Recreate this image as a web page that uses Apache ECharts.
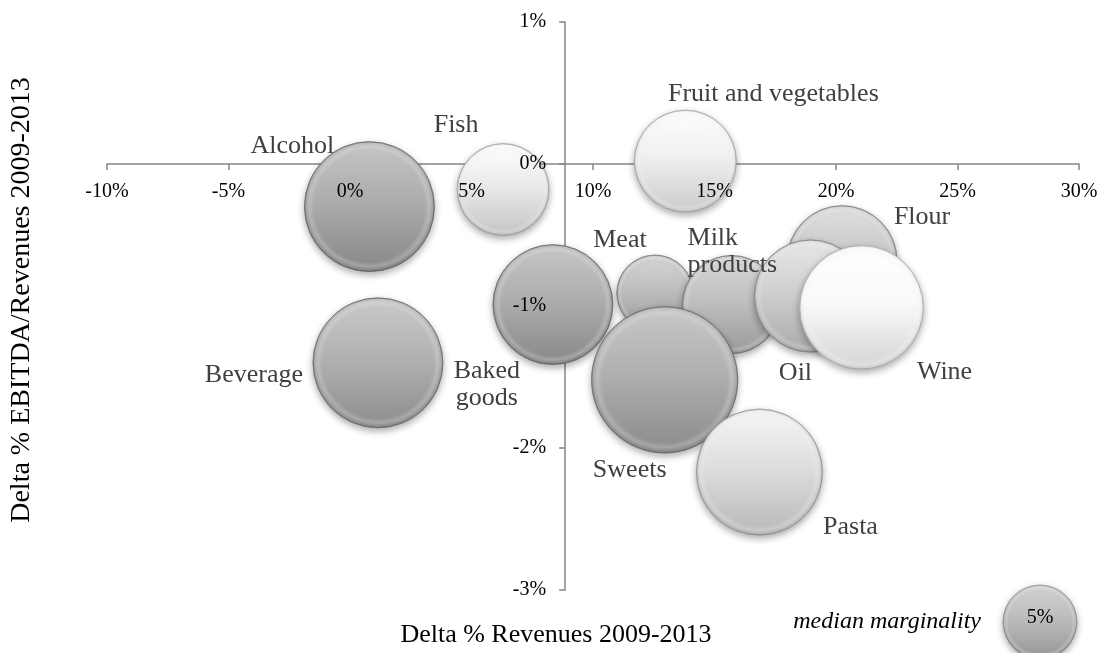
<!DOCTYPE html>
<html>
<head>
<meta charset="utf-8">
<script src="https://cdn.jsdelivr.net/npm/echarts@6/dist/echarts.min.js"></script>
<style>
  html, body { margin: 0; padding: 0; background: #ffffff; }
  #chart { width: 1103px; height: 653px; }
</style>
</head>
<body>
<div id="chart"></div>
<script>
// Food sectors: revenue change 2009-2013 (x), EBITDA/revenue change (y), median marginality (bubble area)
const sectors      = ['Alcohol', 'Fish', 'Fruit and vegetables', 'Beverage', 'Baked goods', 'Meat',
                      'Milk products', 'Sweets', 'Pasta', 'Flour', 'Oil', 'Wine'];
const revenueDelta = [0.8, 6.3, 13.8, 1.15, 8.35, 12.55, 15.7, 12.95, 16.85, 20.25, 18.95, 21.05];
const ebitdaDelta  = [-0.30, -0.18, 0.02, -1.40, -0.99, -0.91, -0.99, -1.52, -2.17, -0.68, -0.93, -1.01];
const marginality  = [15.4, 7.7, 9.5, 15.4, 13.1, 5.3, 8.8, 19.5, 14.5, 11.0, 11.5, 14.0];

// Axis ticks (percent) and the x value where the vertical axis crosses
const xTicks = [-10, -5, 0, 5, 10, 15, 20, 25, 30];
const yTicks = [-3, -2, -1, 0, 1];
const yAxisCrossAt = 8.85;

// Reference bubble for the size key
const keyMarginality = 5;

// ---- presentation ----
const GRID = { left: 107, right: 24, top: 22, bottom: 63 };
const CHART_H = 653;
const R_KEY = 37;                       // radius in px of a 5% bubble
const radiusOf = m => R_KEY * Math.sqrt(m / keyMarginality);

// grey tone of each bubble (0-255), same order as sectors
const tones = [165, 226, 232, 170, 166, 182, 184, 168, 214, 192, 200, 242];
const keyTone = 180;

// label placement around each bubble: [dx, dy, align, text]
const labelLayout = {
  'Alcohol':              [-77, -60, 'center', 'Alcohol'],
  'Fish':                 [-47, -64, 'center', 'Fish'],
  'Fruit and vegetables': [ 88, -67, 'center', 'Fruit and vegetables'],
  'Beverage':             [-124, 12, 'center', 'Beverage'],
  'Baked goods':          [-66,  80, 'center', 'Baked\ngoods'],
  'Meat':                 [-35, -53, 'center', 'Meat'],
  'Milk products':        [-44, -53, 'left',   'Milk\nproducts'],
  'Sweets':               [-35,  90, 'center', 'Sweets'],
  'Pasta':                [ 91,  55, 'center', 'Pasta'],
  'Flour':                [ 80, -43, 'center', 'Flour'],
  'Oil':                  [-15,  77, 'center', 'Oil'],
  'Wine':                 [ 83,  65, 'center', 'Wine']
};

const SERIF = '"Liberation Serif", "Times New Roman", serif';
const AXIS_GREY = '#878787';

function grey(v, a) {
  v = Math.max(0, Math.min(255, Math.round(v)));
  return 'rgba(' + v + ',' + v + ',' + v + ',' + (a == null ? 1 : a) + ')';
}

// 3-D looking bubble: vertical shading, soft bevel ring, drop shadow
function bubbleShapes(cx, cy, r, tone) {
  return [
    {
      type: 'circle',
      shape: { cx: cx, cy: cy, r: r },
      style: {
        fill: new echarts.graphic.LinearGradient(0, 0, 0, 1, [
          { offset: 0, color: grey(tone + 32) },
          { offset: 0.45, color: grey(tone + 8) },
          { offset: 1, color: grey(tone - 30) }
        ]),
        stroke: grey(tone - 70, 0.55),
        lineWidth: 1,
        shadowBlur: 7,
        shadowOffsetY: 3,
        shadowColor: 'rgba(0,0,0,0.32)'
      }
    },
    {
      type: 'circle',
      silent: true,
      shape: { cx: cx, cy: cy, r: r - 0.5 },
      style: {
        fill: new echarts.graphic.RadialGradient(0.5, 0.5, 0.5, [
          { offset: 0, color: 'rgba(255,255,255,0)' },
          { offset: 0.86, color: 'rgba(255,255,255,0)' },
          { offset: 0.93, color: 'rgba(255,255,255,0.22)' },
          { offset: 0.97, color: 'rgba(255,255,255,0.06)' },
          { offset: 1, color: 'rgba(0,0,0,0.12)' }
        ])
      }
    }
  ];
}

const points = sectors.map((name, i) => ({
  name: name,
  value: [revenueDelta[i], ebitdaDelta[i], marginality[i]]
}));

const pct = v => v + '%';

const option = {
  animation: false,
  backgroundColor: '#ffffff',
  grid: {
    left: GRID.left, right: GRID.right, top: GRID.top, bottom: GRID.bottom,
    containLabel: false, outerBoundsMode: 'none'
  },
  xAxis: [
    { // axis line and ticks, kept behind the bubbles
      type: 'value', position: 'bottom', z: 0,
      min: xTicks[0], max: xTicks[xTicks.length - 1], interval: xTicks[1] - xTicks[0],
      axisLine: { show: true, onZero: true, onZeroAxisIndex: 0, lineStyle: { color: AXIS_GREY, width: 1.5 } },
      axisTick: { show: true, length: 6, lineStyle: { color: AXIS_GREY, width: 1.5 } },
      axisLabel: { show: false },
      splitLine: { show: false }
    },
    { // tick labels, drawn above the bubbles
      type: 'value', position: 'bottom', z: 6,
      min: xTicks[0], max: xTicks[xTicks.length - 1], interval: xTicks[1] - xTicks[0],
      axisLine: { show: false, onZero: false },
      axisTick: { show: false },
      axisLabel: { show: true, margin: 18, formatter: pct, color: '#000', fontFamily: SERIF, fontSize: 20,
                   showMinLabel: true, showMaxLabel: true },
      splitLine: { show: false }
    }
  ],
  yAxis: [
    {
      type: 'value', position: 'left', z: 0,
      min: yTicks[0], max: yTicks[yTicks.length - 1], interval: yTicks[1] - yTicks[0],
      axisLine: { show: true, onZero: false, lineStyle: { color: AXIS_GREY, width: 1.5 } },
      axisTick: { show: true, length: 6, lineStyle: { color: AXIS_GREY, width: 1.5 } },
      axisLabel: { show: false },
      splitLine: { show: false }
    },
    {
      type: 'value', position: 'left', z: 6,
      min: yTicks[0], max: yTicks[yTicks.length - 1], interval: yTicks[1] - yTicks[0],
      axisLine: { show: false, onZero: false },
      axisTick: { show: false },
      axisLabel: { show: true, margin: 19, formatter: pct, color: '#000', fontFamily: SERIF, fontSize: 20,
                   showMinLabel: true, showMaxLabel: true },
      splitLine: { show: false }
    }
  ],
  series: [
    {
      type: 'custom',
      name: 'sectors',
      xAxisIndex: 0, yAxisIndex: 0,
      z: 2,
      clip: false,
      data: points,
      renderItem: function (params, api) {
        const c = api.coord([api.value(0), api.value(1)]);
        const r = radiusOf(api.value(2));
        return { type: 'group', children: bubbleShapes(c[0], c[1], r, tones[params.dataIndex]) };
      }
    },
    {
      type: 'custom',
      name: 'labels',
      xAxisIndex: 0, yAxisIndex: 0,
      z: 4,
      clip: false,
      silent: true,
      data: points,
      renderItem: function (params, api) {
        const c = api.coord([api.value(0), api.value(1)]);
        const lay = labelLayout[sectors[params.dataIndex]];
        return {
          type: 'text',
          x: c[0] + lay[0],
          y: c[1] + lay[1],
          style: {
            text: lay[3],
            font: '26px ' + SERIF,
            fill: '#404040',
            align: lay[2],
            verticalAlign: 'middle',
            lineHeight: 27
          }
        };
      }
    }
  ],
  graphic: [
    {
      type: 'text',
      x: 556, y: 635,
      style: { text: 'Delta % Revenues 2009-2013', font: '26px ' + SERIF, fill: '#000',
               align: 'center', verticalAlign: 'middle' }
    },
    {
      type: 'text',
      x: 22, y: 300,
      rotation: Math.PI / 2,
      style: { text: 'Delta % EBITDA/Revenues 2009-2013', font: '28px ' + SERIF, fill: '#000',
               align: 'center', verticalAlign: 'middle' }
    },
    {
      type: 'text',
      x: 981, y: 622,
      style: { text: 'median marginality', font: 'italic 24px ' + SERIF, fill: '#000',
               align: 'right', verticalAlign: 'middle' }
    },
    {
      type: 'group',
      children: bubbleShapes(1040, 622, radiusOf(keyMarginality), keyTone).concat([
        {
          type: 'text', x: 1040, y: 618,
          style: { text: pct(keyMarginality), font: '20px ' + SERIF, fill: '#000',
                   align: 'center', verticalAlign: 'middle' }
        }
      ])
    }
  ]
};

const chart = echarts.init(document.getElementById('chart'), null, { renderer: 'canvas' });
chart.setOption(option);

// move the label axes onto the crossing lines of the two axes
const crossPx = chart.convertToPixel({ xAxisIndex: 0 }, yAxisCrossAt);
const zeroPx = chart.convertToPixel({ yAxisIndex: 0 }, 0);
const yOffset = GRID.left - crossPx;
const xOffset = zeroPx - (CHART_H - GRID.bottom);
chart.setOption({
  xAxis: [{}, { offset: xOffset }],
  yAxis: [{ offset: yOffset }, { offset: yOffset }]
});
</script>
</body>
</html>
